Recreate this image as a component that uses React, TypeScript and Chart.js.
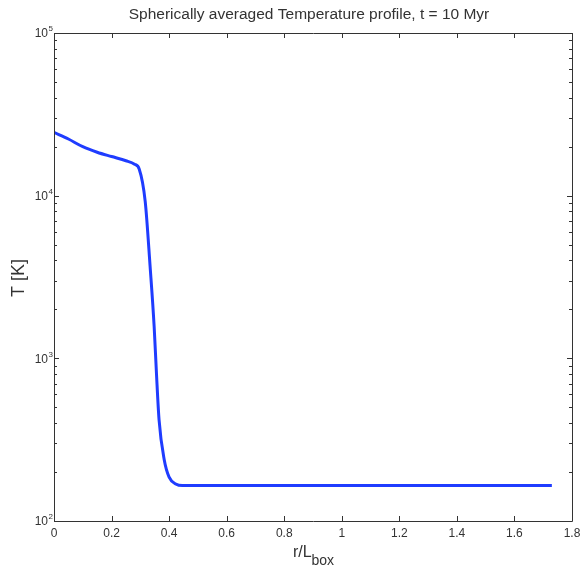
import React, { useEffect, useRef } from "react";
import { Chart, registerables } from "chart.js";

Chart.register(...registerables);

const radius = [0, 0.05, 0.1, 0.15, 0.2, 0.25, 0.28, 0.296, 0.317, 0.334, 0.348, 0.356, 0.365, 0.383, 0.4, 0.423, 0.446, 0.5, 0.8, 1.2, 1.6, 1.73];
const temperature = [24500, 22300, 20000, 18500, 17400, 16400, 15600, 14600, 9200, 3660, 1570, 810, 420, 238, 186, 169, 165, 165, 165, 165, 165, 165];
const xTicks = [0, 0.2, 0.4, 0.6, 0.8, 1, 1.2, 1.4, 1.6, 1.8];
const yDecades = [2, 3, 4, 5];

const TITLE = "Spherically averaged Temperature profile, t = 10 Myr";
const FONT = "'Liberation Sans', Arial, Helvetica, sans-serif";
const AXIS_COLOR = "#333333";

const framePlugin = {
  id: "matlabFrame",
  afterDraw(chart: any) {
    const ctx = chart.ctx as CanvasRenderingContext2D;
    const { left, right, top, bottom } = chart.chartArea;
    const xs = chart.scales.x;
    const ys = chart.scales.y;
    ctx.save();
    ctx.strokeStyle = AXIS_COLOR;
    ctx.lineWidth = 1;
    ctx.beginPath();
    ctx.rect(Math.round(left) + 0.5, Math.round(top) + 0.5, Math.round(right - left), Math.round(bottom - top));
    ctx.stroke();

    // x ticks
    ctx.beginPath();
    xTicks.forEach((v) => {
      const px = Math.round(xs.getPixelForValue(v)) + 0.5;
      ctx.moveTo(px, bottom);
      ctx.lineTo(px, bottom - 5);
      ctx.moveTo(px, top);
      ctx.lineTo(px, top + 5);
    });
    // y ticks
    for (let d = 2; d <= 5; d++) {
      const py = Math.round(ys.getPixelForValue(Math.pow(10, d))) + 0.5;
      ctx.moveTo(left, py);
      ctx.lineTo(left + 5, py);
      ctx.moveTo(right, py);
      ctx.lineTo(right - 5, py);
      if (d < 5) {
        for (let m = 2; m <= 9; m++) {
          const pm = Math.round(ys.getPixelForValue(m * Math.pow(10, d))) + 0.5;
          ctx.moveTo(left, pm);
          ctx.lineTo(left + 3, pm);
          ctx.moveTo(right, pm);
          ctx.lineTo(right - 3, pm);
        }
      }
    }
    ctx.stroke();

    // x tick labels
    ctx.fillStyle = AXIS_COLOR;
    ctx.font = `12px ${FONT}`;
    ctx.textAlign = "center";
    ctx.textBaseline = "middle";
    xTicks.forEach((v) => {
      ctx.fillText(String(v), xs.getPixelForValue(v), bottom + 13);
    });

    // y tick labels
    yDecades.forEach((d) => {
      const py = ys.getPixelForValue(Math.pow(10, d));
      ctx.font = `12px ${FONT}`;
      ctx.textAlign = "right";
      ctx.textBaseline = "middle";
      ctx.fillText("10", left - 6, py + 1);
      ctx.font = `8px ${FONT}`;
      ctx.textAlign = "left";
      ctx.fillText(String(d), left - 5.5, py - 4);
    });

    // x axis title with subscript
    ctx.textBaseline = "alphabetic";
    ctx.textAlign = "left";
    const main = "r/L";
    const sub = "box";
    ctx.font = `16px ${FONT}`;
    const wMain = ctx.measureText(main).width;
    ctx.font = `14px ${FONT}`;
    const wSub = ctx.measureText(sub).width;
    const cx = (left + right) / 2 + 0.5;
    const startX = cx - (wMain + wSub) / 2;
    ctx.font = `16px ${FONT}`;
    ctx.fillText(main, startX, bottom + 36);
    ctx.font = `14px ${FONT}`;
    ctx.fillText(sub, startX + wMain, bottom + 44);

    // y axis title
    ctx.save();
    ctx.translate(19, 278);
    ctx.rotate(-Math.PI / 2);
    ctx.textAlign = "center";
    ctx.textBaseline = "middle";
    ctx.font = `18px ${FONT}`;
    ctx.fillText("T [K]", 0, 0);
    ctx.restore();

    // title
    ctx.font = `15.5px ${FONT}`;
    ctx.textAlign = "center";
    ctx.textBaseline = "middle";
    ctx.fillText(TITLE, 309, 14.5);
    ctx.restore();
  },
};

export default function App() {
  const canvasRef = useRef<HTMLCanvasElement | null>(null);

  useEffect(() => {
    if (!canvasRef.current) return;
    const chart = new Chart(canvasRef.current, {
      type: "line",
      data: {
        datasets: [
          {
            data: radius.map((r, i) => ({ x: r, y: temperature[i] })),
            borderColor: "#1f3cff",
            borderWidth: 3,
            pointRadius: 0,
            fill: false,
            cubicInterpolationMode: "monotone",
          },
        ],
      },
      options: {
        responsive: false,
        animation: false,
        layout: { padding: { left: 54, right: 11, top: 33, bottom: 51 } },
        plugins: { legend: { display: false }, tooltip: { enabled: false }, title: { display: false } },
        scales: {
          x: { type: "linear", min: 0, max: 1.8, display: false },
          y: { type: "logarithmic", min: 100, max: 100000, display: false },
        },
      },
      plugins: [framePlugin],
    } as any);
    return () => chart.destroy();
  }, []);

  return (
    <div style={{ position: "fixed", left: 0, top: 0, width: 583, height: 572, background: "#fff" }}>
      <canvas ref={canvasRef} width={583} height={572} />
    </div>
  );
}
